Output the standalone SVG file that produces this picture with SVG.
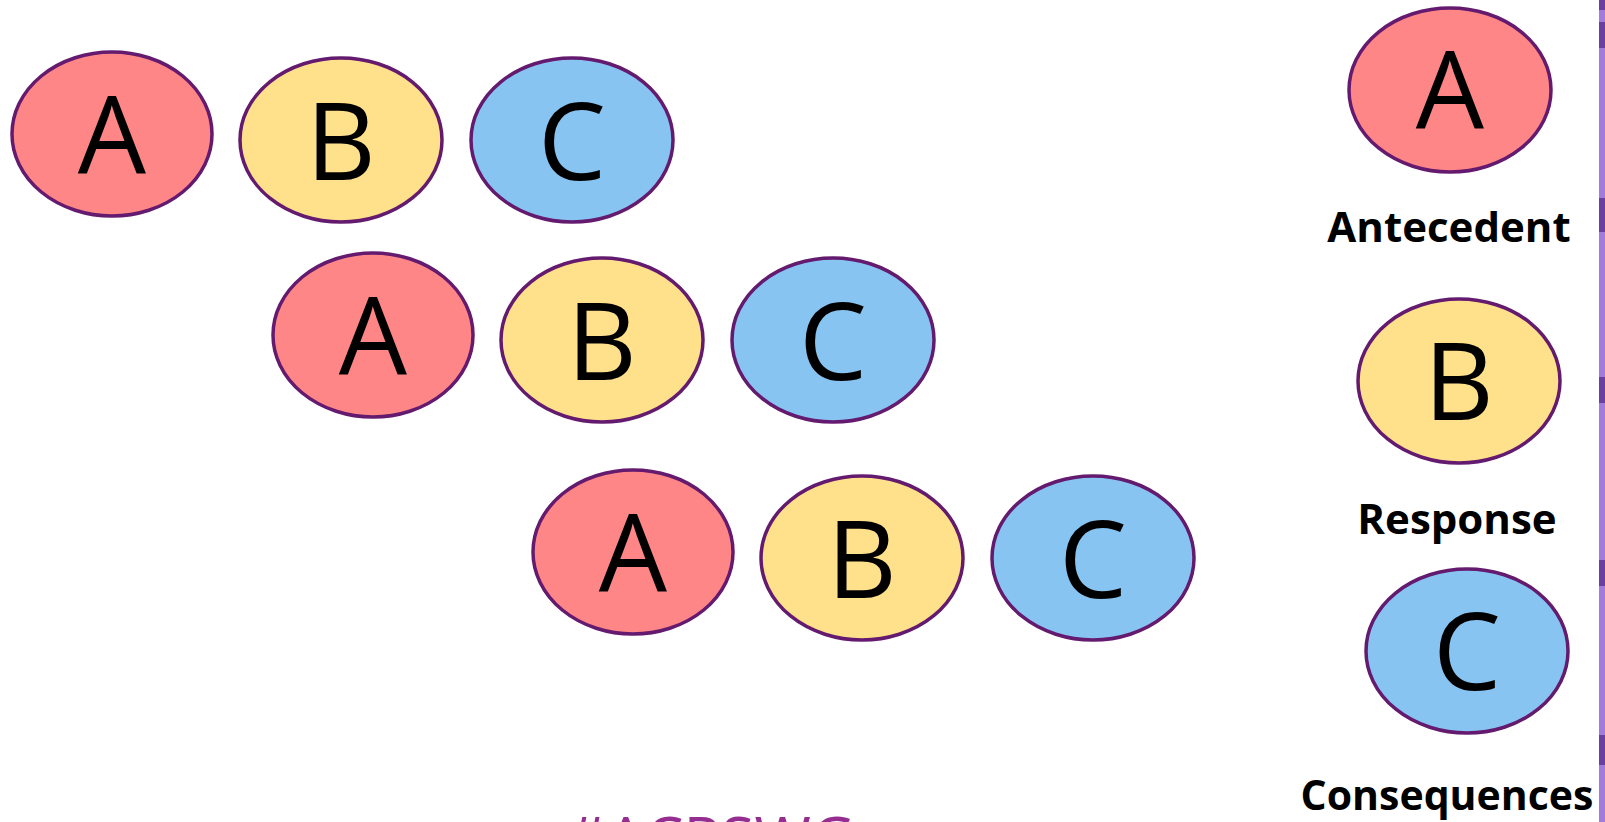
<svg xmlns="http://www.w3.org/2000/svg" width="1605" height="822" viewBox="0 0 1605 822">
<style>
.e{stroke:#641a6e;stroke-width:3.5}
.a{fill:#ff8686}
.b{fill:#ffe08b}
.c{fill:#88c4f2}
.l{font-family:"Open Sans","Noto Sans",sans-serif;font-size:108px;fill:#000;text-anchor:middle}
.t{font-family:"Open Sans","Noto Sans",sans-serif;font-size:42px;font-weight:bold;fill:#000;text-anchor:middle}
</style>
<rect width="1605" height="822" fill="#fff"/>
<g id="strip">
<rect x="1599" y="0" width="6" height="822" fill="#a37bdc"/>
<rect x="1599" y="0" width="6" height="10" fill="#6b3fa2"/>
<rect x="1599" y="22" width="6" height="26" fill="#6b3fa2"/>
<rect x="1599" y="198" width="6" height="34" fill="#6b3fa2"/>
<rect x="1599" y="377" width="6" height="26" fill="#6b3fa2"/>
<rect x="1599" y="560" width="6" height="26" fill="#6b3fa2"/>
<rect x="1599" y="735" width="6" height="30" fill="#6b3fa2"/>
</g>
<g id="row1">
<g id="A1"><ellipse class="e a" cx="112" cy="134" rx="100" ry="82"/><text class="l" x="112" y="174">A</text></g>
<g id="B1"><ellipse class="e b" cx="341" cy="140" rx="101" ry="82"/><text class="l" x="341" y="180">B</text></g>
<g id="C1"><ellipse class="e c" cx="572" cy="140" rx="101" ry="82"/><text class="l" x="572" y="180">C</text></g>
</g>
<g id="row2">
<g id="A2"><ellipse class="e a" cx="373" cy="335" rx="100" ry="82"/><text class="l" x="373" y="375">A</text></g>
<g id="B2"><ellipse class="e b" cx="602" cy="340" rx="101" ry="82"/><text class="l" x="602" y="380">B</text></g>
<g id="C2"><ellipse class="e c" cx="833" cy="340" rx="101" ry="82"/><text class="l" x="833" y="380">C</text></g>
</g>
<g id="row3">
<g id="A3"><ellipse class="e a" cx="633" cy="552" rx="100" ry="82"/><text class="l" x="633" y="592">A</text></g>
<g id="B3"><ellipse class="e b" cx="862" cy="558" rx="101" ry="82"/><text class="l" x="862" y="598">B</text></g>
<g id="C3"><ellipse class="e c" cx="1093" cy="558" rx="101" ry="82"/><text class="l" x="1093" y="598">C</text></g>
</g>
<g id="legendA"><ellipse class="e a" cx="1450" cy="90" rx="101" ry="82"/><text class="l" x="1450" y="129">A</text><text class="t" x="1449" y="242">Antecedent</text></g>
<g id="legendB"><ellipse class="e b" cx="1459" cy="381" rx="101" ry="82"/><text class="l" x="1459" y="420">B</text><text class="t" x="1457" y="534">Response</text></g>
<g id="legendC"><ellipse class="e c" cx="1467" cy="651" rx="101" ry="82"/><text class="l" x="1467" y="690">C</text><text class="t" x="1447" y="810" style="font-size:41px">Consequences</text></g>
<g id="connectors"></g>
<text x="567" y="860" font-family="Open Sans, Noto Sans, sans-serif" font-size="61" fill="#962d91">#ACRSWG</text>
</svg>
